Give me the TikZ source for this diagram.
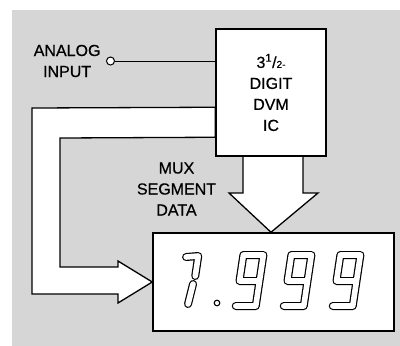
\documentclass[tikz,border=0pt]{standalone}
\usepackage{fontspec}
\setmainfont{Liberation Sans}[FakeBold=0.6]
\usepackage{tikz}
\usepackage{xcolor}
\definecolor{paper}{RGB}{214,214,214}
\usetikzlibrary{positioning, calc, backgrounds}

\begin{document}
\begin{tikzpicture}[
    x=1pt, y=-1pt,
    block/.style={draw, line width=1.5pt, fill=white, inner sep=0pt},
    lbl/.style={font=\fontsize{16}{21}\selectfont, align=center},
    bus/.style={draw, line width=1.3pt, fill=white, line join=miter},
    wire/.style={line width=1pt},
    seg/.style={draw, line width=1.2pt, double=white, double distance=5.6pt, line cap=round, line join=round}
]
\useasboundingbox (0,0) rectangle (400,346);

% IC block
\node[block, lbl, minimum width=110pt, minimum height=127pt] (ic) at (271,92.5) {
    3\textsuperscript{1}/{\fontsize{10}{10}\selectfont 2-}\\
    DIGIT\\
    DVM\\
    IC
};

% Display block
\node[block, minimum width=241pt, minimum height=98pt] (disp) at (273.5,282) {};

% Analog input terminal
\node[circle, draw, wire, fill=white, minimum size=8pt, inner sep=0pt] (ain) at (110.5,61) {};
\node[lbl, left=2pt of ain] (ainlbl) {ANALOG\\INPUT};
\draw[wire] (ain.east) -- (ain.east -| ic.west);

% Segment data label
\node[lbl] (mux) at (176.5,189) {MUX\\SEGMENT\\DATA};

\begin{scope}[on background layer]
    \fill[paper] (12,10) rectangle (400,346);
    % Digit drive bus back to the display
    \filldraw[bus] ($(ic.north west)+(0,79)$) -- (32,108) -- (32,294) -- (118,294)
        -- (118,303) -- (disp.west) -- (118,261) -- (118,267) -- (60,267) -- (60,138)
        -- ($(ic.north west)+(0,109)$) -- cycle;
    % Segment data bus
    \filldraw[bus] (243,156) -- (243,193) -- (229,193) -- (ic.south |- disp.north)
        -- (318,193) -- (303,193) -- (303,156) -- cycle;
\end{scope}

% Readout 1.999
\begin{scope}[shift={(190,251)}, xslant=0.15]
    \draw[seg] (-3,6) -- (9,5) -- (9,25);
    \draw[seg] (8,33) -- (6,53);
\end{scope}
\draw[line width=1.1pt] (217,303) circle (2.8);
\foreach \dx in {240,288,337} {
    \begin{scope}[shift={(\dx,251)}, xslant=0.15]
        \draw[seg] (4,55) -- (24,55) -- (24,4) -- (4,4) -- (4,30) -- (24,30);
    \end{scope}
}

\end{tikzpicture}
\end{document}
